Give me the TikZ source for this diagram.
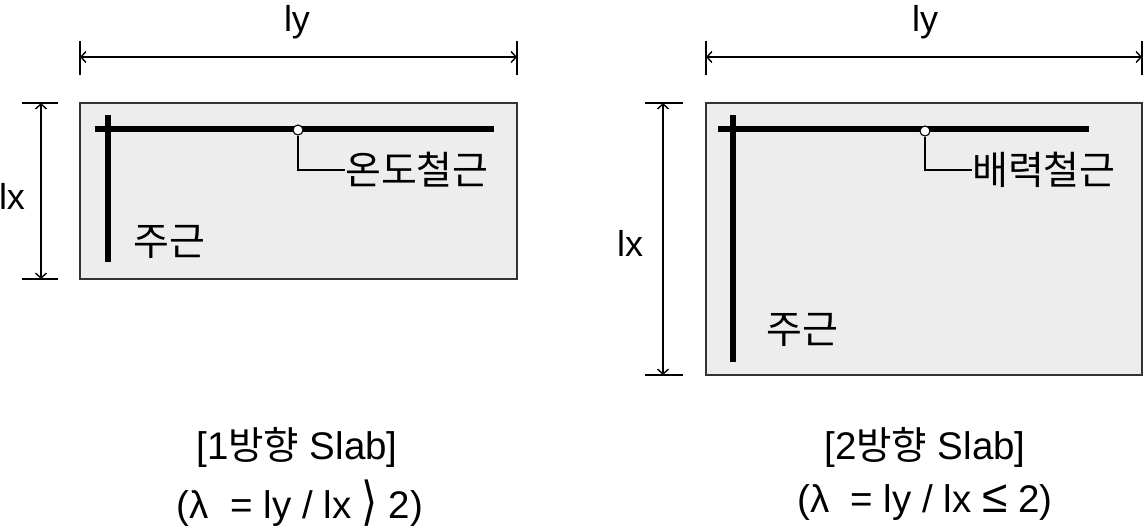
\documentclass[tikz,border=0pt]{standalone}
\usepackage{fontspec}
\usepackage{graphicx}
\setmainfont{Liberation Sans}
\newfontfamily\cjk{Noto Sans CJK KR}
\newfontfamily\djv{DejaVu Sans}
\usetikzlibrary{arrows.meta}
\begin{document}
\begin{tikzpicture}[x=1pt,y=-1pt,
  slab/.style={draw=black!80, fill=black!7, line width=1.3pt, inner sep=0pt},
  bar/.style={line width=5.5pt},
  dimline/.style={line width=1.2pt, {Straight Barb[length=5pt,width=11pt,line width=1.4pt]}-{Straight Barb[length=5pt,width=11pt,line width=1.4pt]}},
  tickline/.style={line width=1.1pt},
  leader/.style={line width=1.1pt},
  lbl/.style={font=\cjk\fontsize{39}{44}\selectfont, inner sep=0pt},
  dimlbl/.style={font=\fontsize{36}{40}\selectfont, inner sep=0pt},
  captext/.style={font=\fontsize{38.5}{44}\selectfont, inner sep=0pt},
  dot/.style={circle, draw=black, fill=white, line width=1.1pt, minimum size=10pt, inner sep=0pt}
]
\useasboundingbox (0,0) rectangle (1145,531);

% ---------- left: one-way slab ----------
\node[slab, minimum width=437pt, minimum height=176pt] (s1) at (298.5,191) {};
% horizontal dimension
\coordinate (d1a) at (80,57);
\coordinate (d1b) at (517,57);
\coordinate (t1a1) at (80,41); \coordinate (t1a2) at (80,75);
\coordinate (t1b1) at (517,41); \coordinate (t1b2) at (517,75);
\draw[tickline] (t1a1) -- (t1a2);
\draw[tickline] (t1b1) -- (t1b2);
\draw[dimline] (d1a) -- (d1b);
\node[dimlbl] (ly1) at (297,22) {ly};
% vertical dimension
\coordinate (v1a) at (41,103);
\coordinate (v1b) at (41,279);
\coordinate (u1a1) at (22,103); \coordinate (u1a2) at (58,103);
\coordinate (u1b1) at (22,279); \coordinate (u1b2) at (58,279);
\draw[tickline] (u1a1) -- (u1a2);
\draw[tickline] (u1b1) -- (u1b2);
\draw[dimline] (v1a) -- (v1b);
\node[dimlbl] (lx1) at (12,196) {lx};
% bars
\coordinate (h1a) at (95,129); \coordinate (h1b) at (494,129);
\coordinate (g1a) at (108,115); \coordinate (g1b) at (108,262);
\draw[bar] (h1a) -- (h1b);
\draw[bar] (g1a) -- (g1b);
\node[dot] (c1) at (298,130) {};
\node[lbl, anchor=west] (t1) at (345,170) {온도철근};
\draw[leader] (c1.south) |- (t1.west);
\node[lbl, anchor=west] (m1) at (133,242) {주근};
% caption
\node[captext] (k1) at (297,447) {[1{\cjk 방향} Slab]};
\node[captext] (e1) at (300,503) {(λ\ \ = ly / lx {\djv\fontsize{36}{40}\selectfont\raisebox{-0.02em}{\scalebox{1.15}[1.45]{⟩}}} 2)};

% ---------- right: two-way slab ----------
\node[slab, minimum width=436pt, minimum height=272pt] (s2) at (924,239) {};
\coordinate (d2a) at (706,57);
\coordinate (d2b) at (1142,57);
\coordinate (t2a1) at (706,41); \coordinate (t2a2) at (706,75);
\coordinate (t2b1) at (1142,41); \coordinate (t2b2) at (1142,75);
\draw[tickline] (t2a1) -- (t2a2);
\draw[tickline] (t2b1) -- (t2b2);
\draw[dimline] (d2a) -- (d2b);
\node[dimlbl] (ly2) at (925,22) {ly};
\coordinate (v2a) at (663,103);
\coordinate (v2b) at (663,375);
\coordinate (u2a1) at (645,103); \coordinate (u2a2) at (683,103);
\coordinate (u2b1) at (645,375); \coordinate (u2b2) at (683,375);
\draw[tickline] (u2a1) -- (u2a2);
\draw[tickline] (u2b1) -- (u2b2);
\draw[dimline] (v2a) -- (v2b);
\node[dimlbl] (lx2) at (630,243) {lx};
\coordinate (h2a) at (718,129); \coordinate (h2b) at (1089,129);
\coordinate (g2a) at (733,115); \coordinate (g2b) at (733,362);
\draw[bar] (h2a) -- (h2b);
\draw[bar] (g2a) -- (g2b);
\node[dot] (c2) at (925,131) {};
\node[lbl, anchor=west] (t2) at (972,170) {배력철근};
\draw[leader] (c2.south) |- (t2.west);
\node[lbl, anchor=west] (m2) at (766,330) {주근};
\node[captext] (k2) at (925,447) {[2{\cjk 방향} Slab]};
\node[captext] (e2) at (925,503) {(λ\ \ = ly / lx {\scalebox{1.2}{≤}} 2)};
\end{tikzpicture}
\end{document}
